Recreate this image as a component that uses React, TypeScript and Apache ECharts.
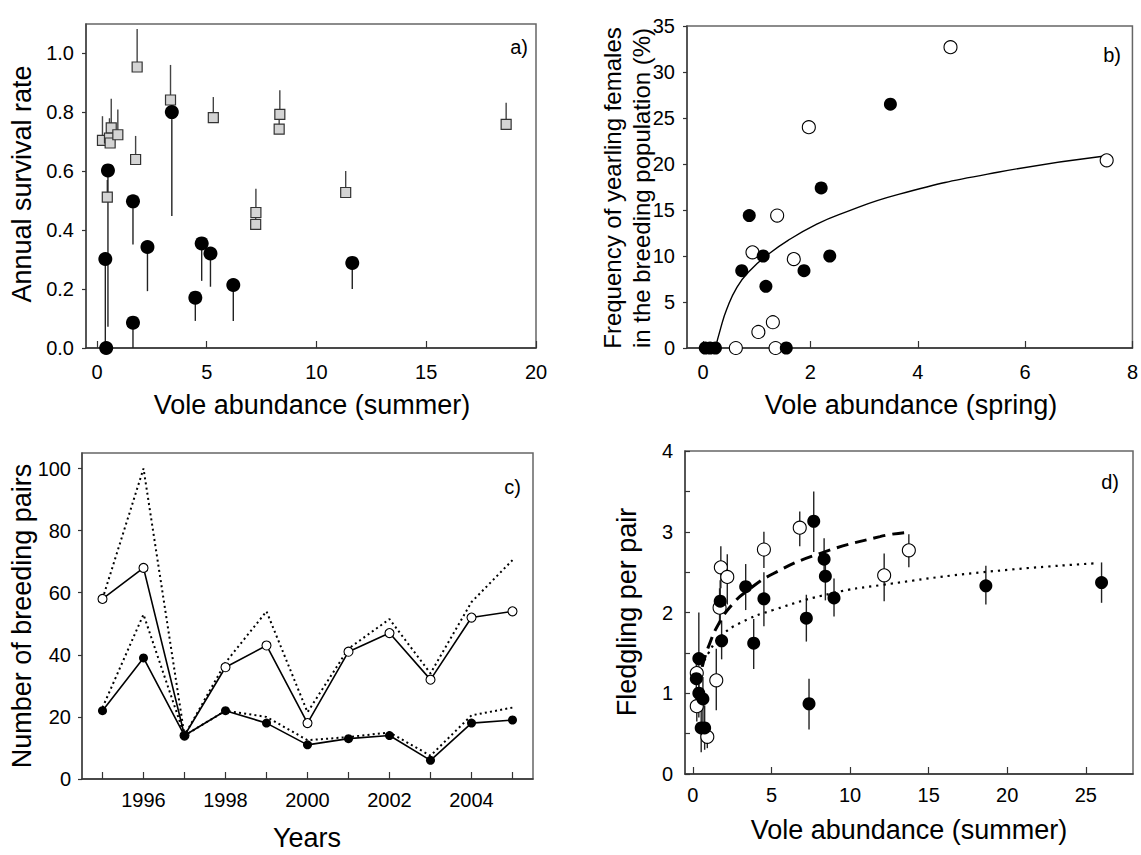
import React, { useEffect, useRef } from "react";
import * as echarts from "echarts";

// ---------- Panel a) ----------
const aSqX = [0.25, 0.57, 0.6, 0.65, 0.95, 1.83, 1.76, 0.47, 3.35, 5.3, 8.33, 8.3, 7.24, 7.23, 11.33, 18.64];
const aSqY = [0.705, 0.713, 0.696, 0.747, 0.724, 0.954, 0.64, 0.512, 0.842, 0.782, 0.793, 0.743, 0.46, 0.42, 0.528, 0.759];
const aSqHi = [0.787, 0.78, 0.76, 0.846, 0.81, 1.083, 0.72, 0.57, 0.961, 0.852, 0.875, 0.8, 0.541, 0.47, 0.601, 0.833];
const aCircX = [0.5, 0.38, 0.42, 1.64, 1.64, 2.3, 3.41, 4.48, 4.77, 5.17, 6.21, 11.63];
const aCircY = [0.603, 0.302, 0.0, 0.498, 0.086, 0.343, 0.801, 0.171, 0.355, 0.321, 0.214, 0.289];
const aCircLo = [0.072, 0.0, 0.0, 0.351, 0.0, 0.193, 0.448, 0.092, 0.228, 0.208, 0.092, 0.2];
const aXTicks = [0, 5, 10, 15, 20];
const aYTicks = [0, 0.2, 0.4, 0.6, 0.8, 1.0];

// ---------- Panel b) ----------
const bFilledX = [0.04, 0.13, 0.23, 0.72, 0.86, 1.12, 1.17, 1.55, 1.88, 2.2, 2.36, 3.49];
const bFilledY = [0, 0, 0, 8.4, 14.4, 10.0, 6.7, 0, 8.4, 17.4, 10.0, 26.5];
const bOpenX = [0.61, 0.92, 1.03, 1.3, 1.35, 1.38, 1.69, 1.97, 4.61, 7.52];
const bOpenY = [0, 10.4, 1.74, 2.8, 0, 14.4, 9.67, 24.0, 32.7, 20.4];
const bCurveX = [0.23, 0.32, 0.44, 0.63, 0.87, 1.24, 1.61, 2.1, 2.53, 3.64, 5.49, 7.52];
const bCurveY = [0, 2.0, 4.2, 6.6, 8.4, 10.3, 11.8, 13.4, 14.5, 16.7, 19.1, 20.9];
const bXTicks = [0, 2, 4, 6, 8];
const bYTicks = [0, 5, 10, 15, 20, 25, 30, 35];

// ---------- Panel c) ----------
const cYears = [1995, 1996, 1997, 1998, 1999, 2000, 2001, 2002, 2003, 2004, 2005];
const cOpen = [58, 68, 14, 36, 43, 18, 41, 47, 32, 52, 54];
const cOpenDot = [58, 100, 14, 37.5, 54, 21.5, 42, 51.5, 34, 57, 70.5];
const cFilled = [22, 39, 14, 22, 18, 11, 13, 14, 6, 18, 19];
const cFilledDot = [23, 53, 14, 22, 20, 12.5, 13.5, 15, 7.5, 20.5, 23];
const cXLabels = [1996, 1998, 2000, 2002, 2004];
const cYTicks = [0, 20, 40, 60, 80, 100];

// ---------- Panel d) ----------
const dOpenX = [0.25, 0.25, 0.92, 1.49, 1.7, 1.78, 2.19, 4.52, 6.8, 12.17, 13.74];
const dOpenY = [0.84, 1.25, 0.46, 1.16, 2.06, 2.56, 2.44, 2.78, 3.05, 2.46, 2.77];
const dOpenLo = [0.65, 1.1, 0.32, 0.79, 1.85, 2.3, 2.1, 2.55, 2.82, 2.14, 2.56];
const dOpenHi = [1.05, 1.4, 0.6, 1.55, 2.3, 2.82, 2.72, 3.0, 3.25, 2.73, 2.97];
const dFilledX = [0.38, 0.22, 0.38, 0.64, 0.53, 0.75, 1.74, 1.83, 3.36, 3.87, 4.52, 7.22, 7.39, 7.69, 8.35, 8.43, 8.98, 18.64, 26.0];
const dFilledY = [1.43, 1.18, 1.0, 0.93, 0.57, 0.57, 2.14, 1.65, 2.32, 1.62, 2.17, 1.93, 0.87, 3.13, 2.66, 2.45, 2.18, 2.33, 2.37];
const dFilledLo = [1.0, 0.9, 0.7, 0.6, 0.27, 0.3, 1.9, 1.42, 2.03, 1.3, 1.83, 1.64, 0.55, 2.75, 2.4, 2.15, 1.95, 2.1, 2.12];
const dFilledHi = [2.0, 1.45, 1.3, 1.2, 0.85, 0.85, 2.4, 1.9, 2.6, 1.92, 2.5, 2.22, 1.18, 3.5, 2.92, 2.7, 2.42, 2.58, 2.62];
const dDashX = [0.6, 1.0, 1.7, 2.55, 3.4, 5.1, 8.07, 11.9, 13.5];
const dDashY = [1.33, 1.58, 1.88, 2.11, 2.26, 2.48, 2.73, 2.94, 2.99];
const dDotX = [0.55, 1.0, 1.7, 3.0, 5.1, 8.9, 12.0, 18.5, 25.7];
const dDotY = [1.33, 1.5, 1.69, 1.87, 2.03, 2.24, 2.34, 2.5, 2.61];
const dXTicks = [0, 5, 10, 15, 20, 25];
const dYLabels = [0, 1, 2, 3, 4];
const dYTicks = [0, 0.5, 1, 1.5, 2, 2.5, 3, 3.5, 4];

const FONT = "Liberation Sans, Arial, sans-serif";

const pairs = (xs: number[], ys: number[]) => xs.map((x, i) => [x, ys[i]]);
const triples = (xs: number[], a: number[], b: number[]) => xs.map((x, i) => [x, a[i], b[i]]);

function errBar(gi: number, data: number[][], color = "#333", w = 1.3) {
  return {
    type: "custom",
    xAxisIndex: gi,
    yAxisIndex: gi,
    z: 1,
    silent: true,
    data,
    encode: { x: 0, y: [1, 2] },
    renderItem: (params: any, api: any) => {
      const x = api.value(0);
      const p1 = api.coord([x, api.value(1)]);
      const p2 = api.coord([x, api.value(2)]);
      return {
        type: "line",
        shape: { x1: p1[0], y1: p1[1], x2: p2[0], y2: p2[1] },
        style: { stroke: color, lineWidth: w },
      };
    },
  };
}

function xAxis(gi: number, min: number, max: number, ticks: number[], labels: number[], margin: number, fmt?: (v: number) => string) {
  return {
    type: "value",
    gridIndex: gi,
    min,
    max,
    splitLine: { show: false },
    axisLine: { show: true, onZero: false, lineStyle: { color: "#333", width: 1.5 } },
    axisTick: { show: true, inside: true, length: 7, customValues: ticks, lineStyle: { color: "#333", width: 1.2 } },
    axisLabel: {
      show: true,
      customValues: labels,
      margin,
      color: "#000",
      fontSize: 20,
      fontFamily: FONT,
      formatter: fmt || ((v: number) => String(v)),
    },
  };
}

function yAxis(gi: number, min: number, max: number, ticks: number[], labels: number[], inside: boolean, margin: number, fmt?: (v: number) => string) {
  return {
    type: "value",
    gridIndex: gi,
    min,
    max,
    splitLine: { show: false },
    axisLine: { show: true, onZero: false, lineStyle: { color: "#444", width: 1.5 } },
    axisTick: { show: true, inside, length: inside ? 5 : 4, customValues: ticks, lineStyle: { color: "#333", width: 1.2 } },
    axisLabel: {
      show: true,
      customValues: labels,
      margin,
      color: "#000",
      fontSize: 20,
      fontFamily: FONT,
      formatter: fmt || ((v: number) => String(v)),
    },
  };
}

function txt(text: string, x: number, y: number, size: number, rotate = false, align = "center") {
  return {
    type: "text",
    x,
    y,
    rotation: rotate ? Math.PI / 2 : 0,
    silent: true,
    style: {
      text,
      fill: "#000",
      font: `${size}px ${FONT}`,
      textAlign: align,
      textVerticalAlign: "middle",
    },
  };
}

export default function App() {
  const ref = useRef<HTMLDivElement>(null);
  useEffect(() => {
    document.body.style.margin = "0";
    const chart = echarts.init(ref.current!, null, { renderer: "svg" });
    const gridBase = { show: true, borderColor: "#666", borderWidth: 1.5, backgroundColor: "transparent", containLabel: false };
    const open = { color: "#fff", borderColor: "#000", borderWidth: 1.1, opacity: 1 };
    const filled = { color: "#000", opacity: 1 };
    const option: any = {
      animation: false,
      backgroundColor: "#fff",
      grid: [
        { ...gridBase, left: 86, top: 24, width: 450, height: 324 },
        { ...gridBase, left: 687, top: 26, width: 449, height: 322 },
        { ...gridBase, left: 82, top: 453, width: 451, height: 326 },
        { ...gridBase, left: 685, top: 451, width: 448, height: 323 },
      ],
      xAxis: [
        xAxis(0, -0.5, 20, aXTicks, aXTicks, 14),
        xAxis(1, -0.3, 8, bXTicks, bXTicks, 14),
        xAxis(2, 1994.5, 2005.5, cYears, cXLabels, 11),
        xAxis(3, -0.5, 28, dXTicks, dXTicks, 11),
      ],
      yAxis: [
        yAxis(0, 0, 1.1, aYTicks, aYTicks, false, 12, (v: number) => v.toFixed(1)),
        yAxis(1, 0, 35, bYTicks, bYTicks, false, 12),
        yAxis(2, 0, 105, cYTicks, cYTicks, false, 11),
        yAxis(3, 0, 4, dYTicks, dYLabels, true, 12),
      ],
      series: [
        // panel a
        errBar(0, triples(aSqX, aSqY, aSqHi), "#444", 1.4),
        errBar(0, triples(aCircX, aCircY, aCircLo), "#222", 1.4),
        {
          type: "scatter", xAxisIndex: 0, yAxisIndex: 0, z: 3, symbol: "rect", symbolSize: 10,
          itemStyle: { color: "#d4d4d4", borderColor: "#333", borderWidth: 1.2, opacity: 1 },
          data: pairs(aSqX, aSqY),
        },
        {
          type: "scatter", xAxisIndex: 0, yAxisIndex: 0, z: 4, symbol: "circle", symbolSize: 14,
          itemStyle: filled, data: pairs(aCircX, aCircY),
        },
        // panel b
        {
          type: "line", xAxisIndex: 1, yAxisIndex: 1, z: 2, smooth: 0.5, symbol: "none",
          lineStyle: { color: "#000", width: 1.4 }, data: pairs(bCurveX, bCurveY),
        },
        {
          type: "scatter", xAxisIndex: 1, yAxisIndex: 1, z: 3, symbol: "circle", symbolSize: 13,
          itemStyle: open, data: pairs(bOpenX, bOpenY),
        },
        {
          type: "scatter", xAxisIndex: 1, yAxisIndex: 1, z: 4, symbol: "circle", symbolSize: 13,
          itemStyle: filled, data: pairs(bFilledX, bFilledY),
        },
        // panel c
        {
          type: "line", xAxisIndex: 2, yAxisIndex: 2, z: 1, symbol: "none",
          lineStyle: { color: "#000", width: 2, type: [2, 3.2] }, data: pairs(cYears, cOpenDot),
        },
        {
          type: "line", xAxisIndex: 2, yAxisIndex: 2, z: 1, symbol: "none",
          lineStyle: { color: "#000", width: 2, type: [2, 3.2] }, data: pairs(cYears, cFilledDot),
        },
        {
          type: "line", xAxisIndex: 2, yAxisIndex: 2, z: 3, symbol: "circle", symbolSize: 9,
          lineStyle: { color: "#000", width: 1.6 },
          itemStyle: open, data: pairs(cYears, cOpen),
        },
        {
          type: "line", xAxisIndex: 2, yAxisIndex: 2, z: 3, symbol: "circle", symbolSize: 9,
          lineStyle: { color: "#000", width: 1.6 },
          itemStyle: filled, data: pairs(cYears, cFilled),
        },
        // panel d
        errBar(3, triples(dOpenX, dOpenLo, dOpenHi), "#222", 1.4),
        errBar(3, triples(dFilledX, dFilledLo, dFilledHi), "#222", 1.4),
        {
          type: "line", xAxisIndex: 3, yAxisIndex: 3, z: 2, smooth: 0.5, symbol: "none",
          lineStyle: { color: "#000", width: 3, type: [12, 7] }, data: pairs(dDashX, dDashY),
        },
        {
          type: "line", xAxisIndex: 3, yAxisIndex: 3, z: 2, smooth: 0.5, symbol: "none",
          lineStyle: { color: "#000", width: 2.2, type: [2.2, 5] }, data: pairs(dDotX, dDotY),
        },
        {
          type: "scatter", xAxisIndex: 3, yAxisIndex: 3, z: 3, symbol: "circle", symbolSize: 13,
          itemStyle: open, data: pairs(dOpenX, dOpenY),
        },
        {
          type: "scatter", xAxisIndex: 3, yAxisIndex: 3, z: 4, symbol: "circle", symbolSize: 13,
          itemStyle: filled, data: pairs(dFilledX, dFilledY),
        },
      ],
      graphic: [
        txt("a)", 528, 47, 20, false, "right"),
        txt("b)", 1121, 55, 20, false, "right"),
        txt("c)", 521, 487, 20, false, "right"),
        txt("d)", 1119, 482, 20, false, "right"),
        txt("Annual survival rate", 22, 184, 27, true),
        txt("Vole abundance (summer)", 312, 405, 27),
        txt("Frequency of yearling females", 612, 188, 24, true),
        txt("in the breeding population (%)", 641, 188, 24, true),
        txt("Vole abundance (spring)", 911, 405, 27),
        txt("Number of breeding pairs", 22, 616, 27, true),
        txt("Years", 307, 838, 27),
        txt("Fledgling per pair", 627, 612, 27, true),
        txt("Vole abundance (summer)", 909, 830, 27),
      ],
    };
    chart.setOption(option);
    return () => chart.dispose();
  }, []);
  return <div ref={ref} style={{ width: 1141, height: 855 }} />;
}
